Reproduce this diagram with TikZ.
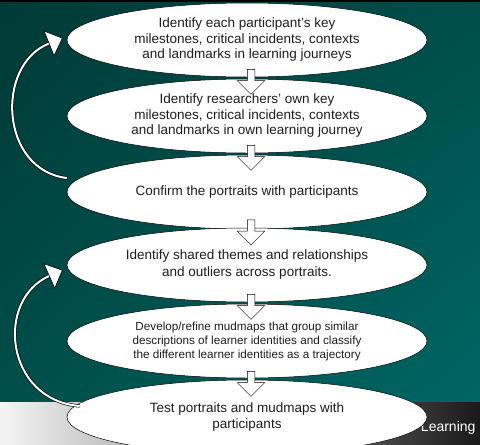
\documentclass[tikz,border=0pt]{standalone}
\usepackage{fontspec}
\setmainfont{Liberation Sans}
\usetikzlibrary{shapes.geometric,shapes.arrows,positioning,calc,arrows.meta,shadings}

\definecolor{tealdark}{HTML}{003A36}
\definecolor{tealmid}{HTML}{004E4A}
\definecolor{teallight}{HTML}{006664}
\definecolor{inkgray}{HTML}{1E1E1E}

\begin{document}
\begin{tikzpicture}[x=1pt,y=-1pt,node distance=76pt,on grid,
    stage/.style={ellipse, draw=black, line width=0.5pt, fill=white, minimum width=360pt,
      minimum height=74pt, inner sep=0pt, align=center, text=inkgray,
      font=\fontsize{13.5}{15.5}\selectfont},
    flow/.style={single arrow, draw=black, line width=0.5pt, fill=white,
      shape border rotate=270, minimum height=25pt, inner sep=3.5pt,
      single arrow head extend=10pt},
    back/.style={draw=black, line width=0.6pt, double=white, double distance=2pt,
      -{Triangle[open, fill=white, length=15pt, width=28pt, line width=0.6pt]}}
    ]

    \useasboundingbox (0,0) rectangle (480,445);

    % slide background
    \shade[upper left=tealdark, upper right=tealmid, lower left=tealmid, lower right=teallight]
      (0,0) rectangle (480,402);
    \fill[black] (0,0) rectangle (480,2);
    \shade[left color=gray!8, middle color=gray!55, right color=black!90] (0,402) rectangle (480,445);
    \node[anchor=east, text=white, font=\fontsize{14}{16}\selectfont] (tag) at (479,428) {Learning};

    \node[stage] (s_1) at (247,40) {Identify each participant’s key\\milestones, critical incidents, contexts\\and landmarks in learning journeys};
    \node[stage] (s_2) [below=of s_1] {Identify researchers’ own key\\milestones, critical incidents, contexts\\and landmarks in own learning journey};
    \node[stage] (s_3) [below=of s_2] {Confirm the portraits with participants};
    \node[stage, font=\fontsize{13.5}{17}\selectfont] (s_4) [below=of s_3, yshift=3pt] {Identify shared themes and relationships\\and outliers across portraits.};
    \node[stage, font=\fontsize{11.7}{14}\selectfont] (s_5) [below=of s_4] {Develop/refine mudmaps that group similar\\descriptions of learner identities and classify\\the different learner identities as a trajectory};
    \node[stage, font=\fontsize{13.5}{16}\selectfont] (s_6) [below=of s_5] {Test portraits and mudmaps with\\participants};

    \node[flow] (a_1) at ($(s_1)!0.5!(s_2)+(4,2)$) {};
    \node[flow] (a_2) at ($(s_2)!0.5!(s_3)+(4,2)$) {};
    \node[flow] (a_3) at ($(s_3)!0.5!(s_4)+(4,2)$) {};
    \node[flow] (a_4) at ($(s_4)!0.5!(s_5)+(4,2)$) {};
    \node[flow] (a_5) at ($(s_5)!0.5!(s_6)+(4,3)$) {};

    % loops back to earlier steps
    \draw[back] ([yshift=14pt]s_3.west) .. controls (0,170) and (-5,65) .. ([xshift=-4pt,yshift=2pt]s_1.west);
    \draw[back] ([xshift=13pt,yshift=11pt]s_6.west) .. controls (5,400) and (-5,300) .. ([xshift=-4pt,yshift=-5pt]s_4.west);
\end{tikzpicture}
\end{document}
